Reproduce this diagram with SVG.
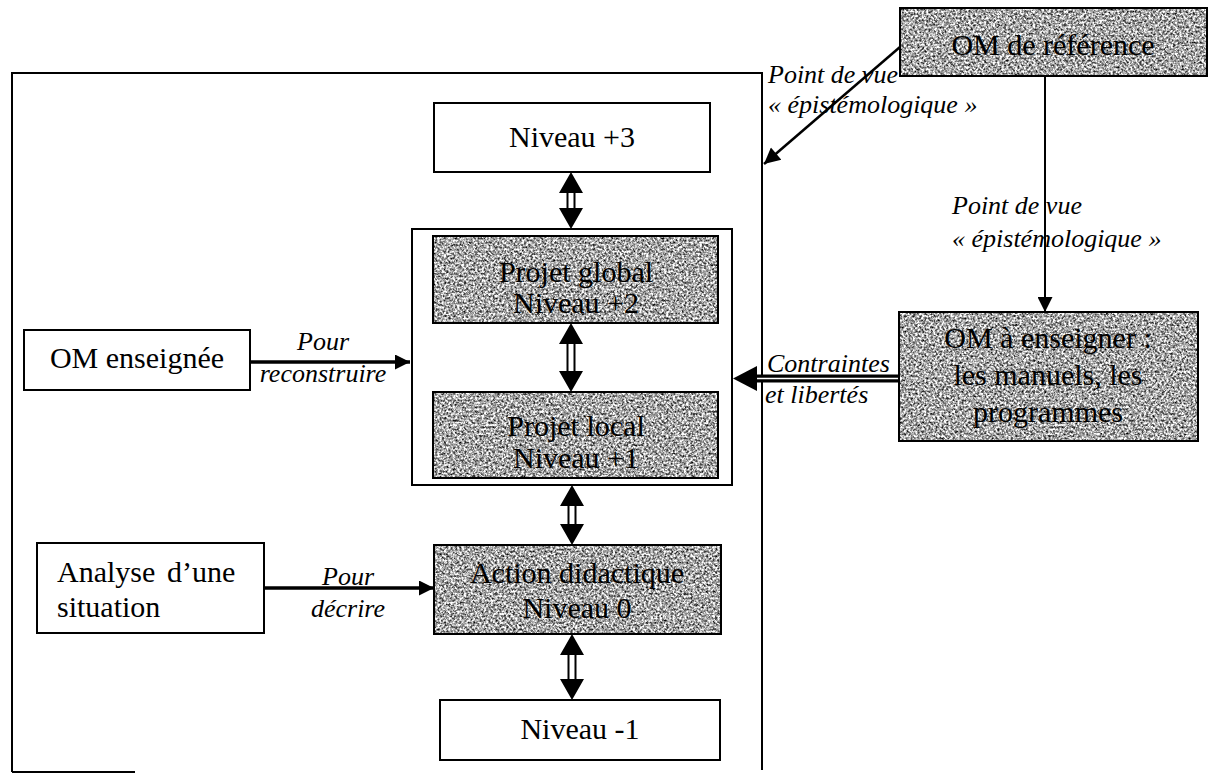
<svg xmlns="http://www.w3.org/2000/svg" width="1208" height="774" viewBox="0 0 1208 774">
<style>
.box{fill:#fff;stroke:#000;stroke-width:2}
.sbox{fill:none;stroke:#000;stroke-width:2}
.shade{fill:#999;filter:url(#grain)}
.t{font-family:"Liberation Serif","Times New Roman",serif;font-size:30px;fill:#000}
.c{text-anchor:middle}
.it{font-family:"Liberation Serif","Times New Roman",serif;font-size:26px;font-style:italic;fill:#000}
.ln{stroke:#000;fill:none}
.hd{fill:#000}
</style>
<defs>
<filter id="grain" x="0" y="0" width="1" height="1" color-interpolation-filters="sRGB">
<feTurbulence type="fractalNoise" baseFrequency="0.45" numOctaves="4" seed="7" result="n"/>
<feColorMatrix in="n" type="matrix" values="1.8 0 0 0 -0.25  1.8 0 0 0 -0.25  1.8 0 0 0 -0.25  0 0 0 0 1" result="g"/>
<feComposite in="g" in2="SourceGraphic" operator="in"/>
</filter>
<marker id="ah" viewBox="0 0 10 10" refX="10" refY="5" markerWidth="18" markerHeight="15" markerUnits="userSpaceOnUse" orient="auto">
<path d="M0,0 L10,5 L0,10 Z" fill="#000"/>
</marker>
<marker id="ah2" viewBox="0 0 10 10" refX="10" refY="5" markerWidth="20" markerHeight="16" markerUnits="userSpaceOnUse" orient="auto">
<path d="M0,0 L10,5 L0,10 Z" fill="#000"/>
</marker>
</defs>
<rect width="1208" height="774" fill="#fff"/>

<g id="frame">
<path class="ln" stroke-width="2" d="M12,772 L12,73 L762,73 L762,770"/>
<path class="ln" stroke-width="2" d="M12,772 L135,772"/>
</g>

<g id="connectors">
<line class="ln" stroke-width="2.5" x1="900" y1="47" x2="764" y2="164" marker-end="url(#ah2)"/>
<line class="ln" stroke-width="2" x1="1045" y1="76" x2="1045" y2="312" marker-end="url(#ah)"/>
<line class="ln" stroke-width="3.5" x1="250" y1="362" x2="410" y2="362" marker-end="url(#ah)"/>
<line class="ln" stroke-width="3.5" x1="264" y1="588" x2="434" y2="588" marker-end="url(#ah)"/>
<g id="arrow-contraintes">
<rect x="752" y="374.5" width="147" height="8" fill="#000"/>
<line x1="752" y1="378.5" x2="899" y2="378.5" stroke="#fff" stroke-width="1.5"/>
<path class="hd" d="M733,378.5 L757,366 L757,391 Z"/>
</g>
<g id="dbl1">
<path class="hd" d="M571,172 L559,193 L583,193 Z M571,229 L559,208 L583,208 Z"/>
<path class="ln" stroke-width="2" d="M567.5,193 V208 M574.5,193 V208"/>
</g>
<g id="dbl2">
<path class="hd" d="M571,323 L559,344 L583,344 Z M571,392 L559,371 L583,371 Z"/>
<path class="ln" stroke-width="2" d="M567.5,344 V371 M574.5,344 V371"/>
</g>
<g id="dbl3">
<path class="hd" d="M572,485 L560,506 L584,506 Z M572,545 L560,524 L584,524 Z"/>
<path class="ln" stroke-width="2" d="M568.5,506 V524 M575.5,506 V524"/>
</g>
<g id="dbl4">
<path class="hd" d="M572,634 L560,655 L584,655 Z M572,700 L560,679 L584,679 Z"/>
<path class="ln" stroke-width="2" d="M568.5,655 V679 M575.5,655 V679"/>
</g>
</g>

<g id="labels">
<text class="it" x="768" y="83">Point de vue</text>
<text class="it" x="768" y="113">« épistémologique »</text>
<text class="it" x="952" y="214">Point de vue</text>
<text class="it" x="952" y="247">« épistémologique »</text>
<text class="it c" x="323" y="350">Pour</text>
<text class="it c" x="323" y="382">reconstruire</text>
<text class="it c" x="348" y="585">Pour</text>
<text class="it c" x="348" y="617">décrire</text>
<text class="it" x="767" y="372">Contraintes</text>
<text class="it" x="765" y="403">et libertés</text>
</g>

<g id="om-reference">
<rect class="shade" x="900" y="8" width="307" height="68"/>
<rect class="sbox" x="900" y="8" width="307" height="68"/>
<text class="t c" x="1053" y="55">OM de référence</text>
</g>

<g id="om-enseigner">
<rect class="shade" x="899" y="312" width="299" height="129"/>
<rect class="sbox" x="899" y="312" width="299" height="129"/>
<text class="t c" x="1048" y="348">OM à enseigner :</text>
<text class="t c" x="1048" y="385">les manuels, les</text>
<text class="t c" x="1048" y="422">programmes</text>
</g>

<g id="niveau-3">
<rect class="box" x="434" y="103" width="276" height="69"/>
<text class="t c" x="572" y="147">Niveau +3</text>
</g>

<g id="projet-container">
<rect class="sbox" x="412" y="229" width="320" height="256"/>
</g>

<g id="projet-global">
<rect class="shade" x="433" y="236" width="285" height="87"/>
<rect class="sbox" x="433" y="236" width="285" height="87"/>
<text class="t c" x="576" y="282">Projet global</text>
<text class="t c" x="576" y="313">Niveau +2</text>
</g>

<g id="projet-local">
<rect class="shade" x="433" y="392" width="285" height="86"/>
<rect class="sbox" x="433" y="392" width="285" height="86"/>
<text class="t c" x="576" y="436">Projet local</text>
<text class="t c" x="576" y="468">Niveau +1</text>
</g>

<g id="om-enseignee">
<rect class="box" x="24" y="330" width="226" height="60"/>
<text class="t c" x="137" y="368">OM enseignée</text>
</g>

<g id="analyse">
<rect class="box" x="37" y="543" width="227" height="90"/>
<text class="t" x="57" y="582">Analyse <tspan x="167">d’une</tspan></text>
<text class="t" x="57" y="617">situation</text>
</g>

<g id="action">
<rect class="shade" x="434" y="545" width="287" height="89"/>
<rect class="sbox" x="434" y="545" width="287" height="89"/>
<text class="t c" x="577" y="583">Action didactique</text>
<text class="t c" x="577" y="618">Niveau 0</text>
</g>

<g id="niveau-moins1">
<rect class="box" x="440" y="700" width="280" height="60"/>
<text class="t c" x="580" y="739">Niveau -1</text>
</g>
</svg>
